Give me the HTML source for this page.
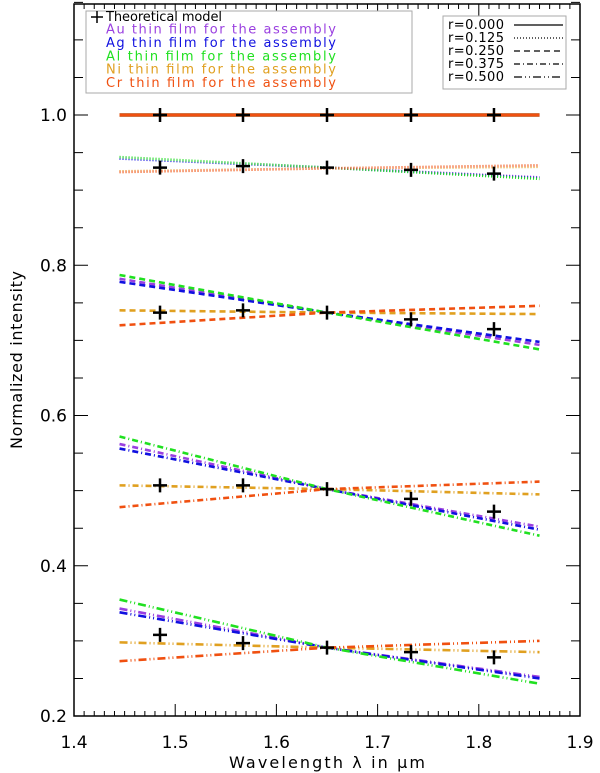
<!DOCTYPE html>
<html><head><meta charset="utf-8"><style>
body{margin:0;background:#fff;}
svg{display:block;font-family:"DejaVu Sans","Liberation Sans",sans-serif;}
</style></head><body>
<svg id="c" width="600" height="773"></svg>
<script>
const wl=[1.445,1.65,1.86];
const metals=["Au","Ag","Al","Ni","Cr"];
const colors=["#9a40e0","#1010e0","#20e020","#e0a020","#f05010"];
const rLabels=["r=0.000","r=0.125","r=0.250","r=0.375","r=0.500"];
const dashes=["","1,2","6,4","6,3,1,3","8,3,1,3,1,3"];
// values[r][metal] at wl
const r0=[[1,1,1],[1,1,1],[1,1,1],[1,1,1],[1,1,1]];
const r1=[[0.943,0.930,0.917],[0.942,0.930,0.916],[0.944,0.930,0.915],[0.925,0.929,0.931],[0.924,0.929,0.933]];
const r2=[[0.782,0.737,0.694],[0.778,0.737,0.698],[0.787,0.737,0.688],[0.740,0.737,0.735],[0.720,0.737,0.746]];
const r3=[[0.562,0.502,0.452],[0.556,0.502,0.448],[0.572,0.502,0.440],[0.507,0.502,0.495],[0.478,0.502,0.512]];
const r4=[[0.343,0.291,0.252],[0.338,0.291,0.250],[0.355,0.291,0.243],[0.298,0.291,0.285],[0.273,0.291,0.300]];
const series=[r0,r1,r2,r3,r4];
const theoX=[1.485,1.567,1.65,1.733,1.815];
const theo=[[1,1,1,1,1],[0.930,0.932,0.930,0.927,0.922],[0.737,0.740,0.737,0.728,0.715],[0.507,0.507,0.502,0.489,0.472],[0.308,0.297,0.291,0.285,0.278]];
const xTicks=["1.4","1.5","1.6","1.7","1.8","1.9"];
const yTicks=["0.2","0.4","0.6","0.8","1.0"];

const L=74,R=580,T=4,B=716;
const X=v=>L+(v-1.4)/0.5*(R-L);
const Y=v=>115+(1.0-v)*751.25;
const svg=document.getElementById('c');
const NS="http://www.w3.org/2000/svg";
function mk(t,a,p){const e=document.createElementNS(NS,t);for(const k in a)e.setAttribute(k,a[k]);(p||svg).appendChild(e);return e;}

series.forEach((rs,ri)=>{
  [0,1,2,3,4].forEach(mi=>{
    const pts=wl.map((w,i)=>X(w)+","+Y(rs[mi][i])).join(" ");
    const e=mk('polyline',{points:pts,fill:'none',stroke:colors[mi],'stroke-width':ri===0?3.2:2.6,'stroke-dasharray':dashes[ri]});
    
    
  });
});
theo.forEach((row,ri)=>row.forEach((v,i)=>{
  const cx=X(theoX[i]),cy=Y(v);
  const g=mk('path',{d:`M${cx-7},${cy}H${cx+7}M${cx},${cy-7}V${cy+7}`,stroke:'#000','stroke-width':2.5});
  
  
}));
const ax=mk('rect',{x:L,y:T,width:R-L,height:B-T,fill:'none',stroke:'#000','stroke-width':1.5});


for(let i=0;i<=50;i++){
  const x=X(1.4+i*0.01);const len=i%10===0?12:5;
  mk('path',{d:`M${x},${B}V${B-len}M${x},${T}V${T+len}`,stroke:'#000','stroke-width':1});
}
xTicks.forEach(t=>{
  const e=mk('text',{x:X(+t),y:748,'text-anchor':'middle','font-size':17});
  e.textContent=t;
  
  
});
for(let v=0.2;v<=1.151;v+=0.05){
  const y=Y(v);const major=Math.abs((v*10)%2)<0.01||Math.abs((v*10)%2-2)<0.01;
  const len=major?14:9;
  mk('path',{d:`M${L},${y}H${L+len}M${R},${y}H${R-len}`,stroke:'#000','stroke-width':1});
}
yTicks.forEach(t=>{
  const e=mk('text',{x:67,y:Y(+t)+6,'text-anchor':'end','font-size':17});
  e.textContent=t;
  
  
});
const xt=mk('text',{x:X(1.65),y:768,'text-anchor':'middle','font-size':16,textLength:196,lengthAdjust:'spacing'});
xt.textContent="Wavelength λ in μm";


const yt=mk('text',{x:0,y:0,'text-anchor':'middle','font-size':16,transform:`translate(22,${(T+B)/2}) rotate(-90)`,textLength:178,lengthAdjust:'spacing'});
yt.textContent="Normalized intensity";



const lg=mk('g',{});


mk('rect',{x:86,y:11,width:326,height:82,fill:'#fff',stroke:'#aaa','stroke-width':1},lg);
mk('path',{d:'M97,11V23M91,17H103',stroke:'#000','stroke-width':1.5},lg);
const t0=mk('text',{x:106,y:21,'font-size':13,textLength:116,lengthAdjust:'spacing'},lg);t0.textContent="Theoretical model";


metals.forEach((m,i)=>{
  const e=mk('text',{x:106,y:33.5+i*13.4,'font-size':13,fill:colors[i],textLength:230,lengthAdjust:'spacing'},lg);
  e.textContent=m+" thin film for the assembly";
  
  
});
const rg=mk('g',{});


mk('rect',{x:443,y:16,width:123,height:73,fill:'#fff',stroke:'#aaa','stroke-width':1},rg);
rLabels.forEach((l,i)=>{
  const y=29+i*13;
  const e=mk('text',{x:448,y:y,'font-size':13,textLength:56,lengthAdjust:'spacing'},rg);e.textContent=l;
  
  
  mk('line',{x1:514,x2:563,y1:y-4,y2:y-4,stroke:'#000','stroke-width':1.2,'stroke-dasharray':dashes[i]},rg);
});
</script>
</body></html>
